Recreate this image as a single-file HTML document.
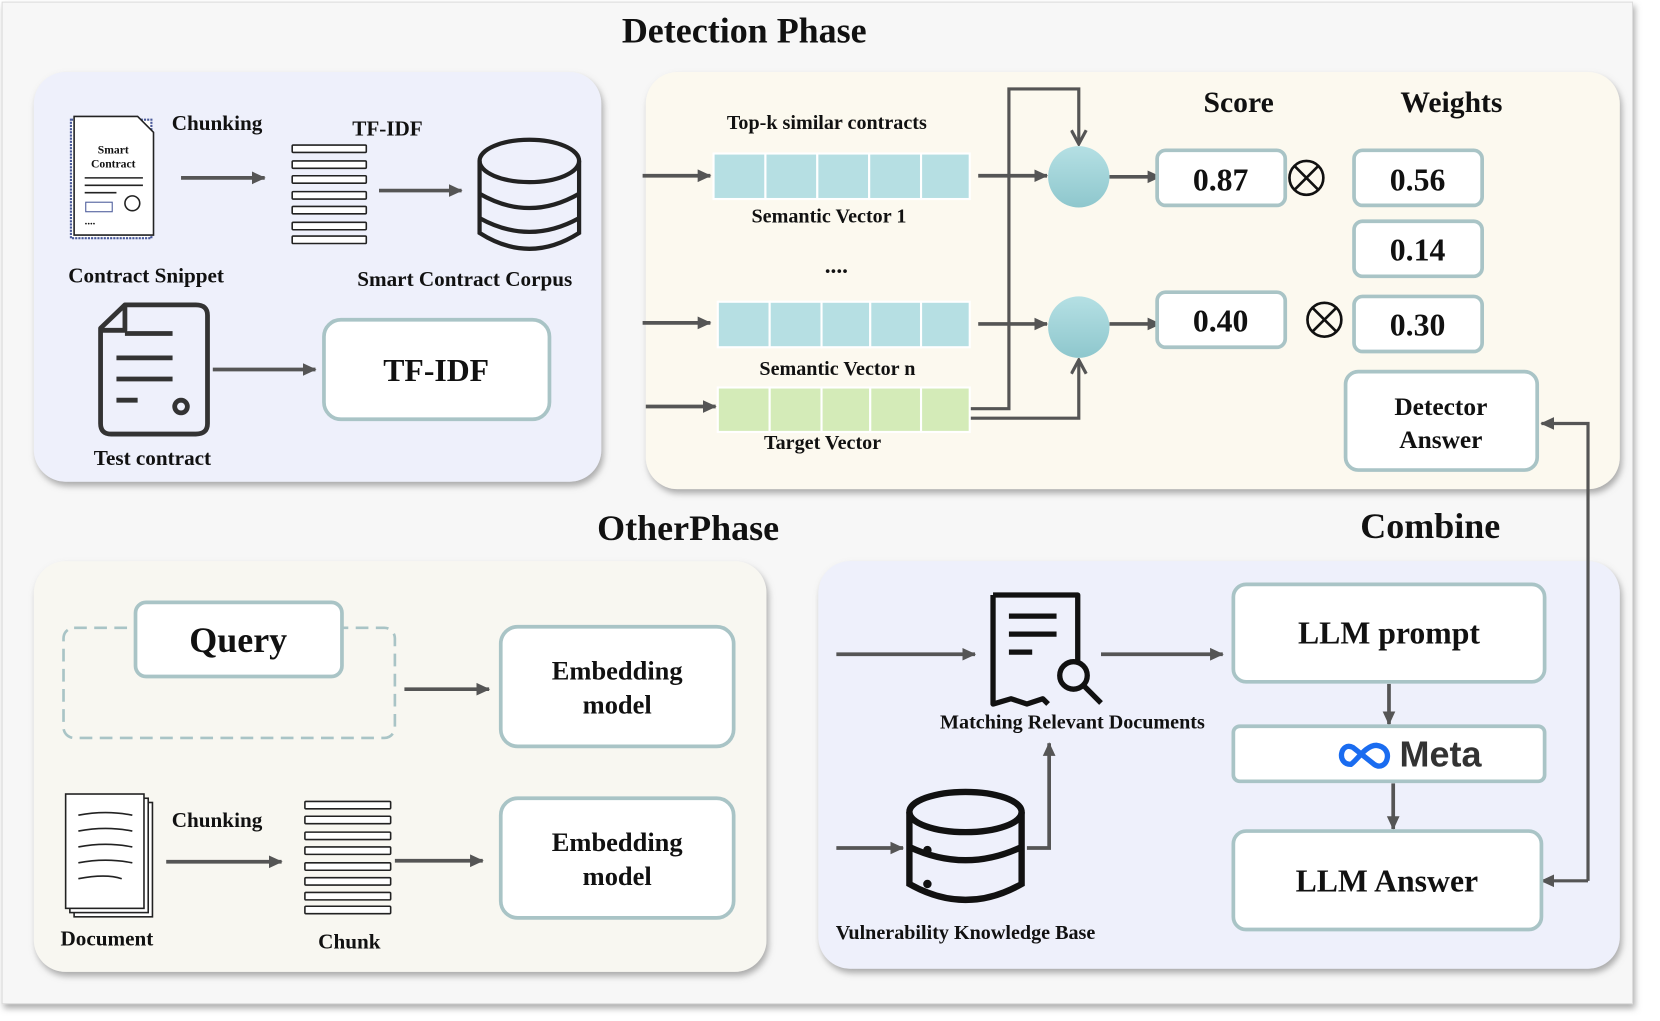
<!DOCTYPE html>
<html><head><meta charset="utf-8"><style>
html,body{margin:0;padding:0;background:#fff;}
svg{display:block;}
text{font-family:"Liberation Serif",serif;font-weight:bold;fill:#111;}
</style></head><body>
<svg width="1660" height="1021" viewBox="0 0 1568 964.4" preserveAspectRatio="none" xmlns="http://www.w3.org/2000/svg">
<defs>
<marker id="a" markerWidth="14" markerHeight="14" refX="12" refY="7" orient="auto" markerUnits="userSpaceOnUse"><path d="M0,1 L13,7 L0,13 Z" fill="#555"/></marker>
<marker id="v" markerWidth="16" markerHeight="16" refX="14" refY="8" orient="auto" markerUnits="userSpaceOnUse"><path d="M1,1 L14,8 L1,15" fill="none" stroke="#555" stroke-width="3"/></marker>
<filter id="sh" x="-5%" y="-5%" width="110%" height="115%"><feDropShadow dx="2" dy="4" stdDeviation="3" flood-color="#777" flood-opacity="0.6"/></filter>
<linearGradient id="cg" x1="0" y1="0" x2="0" y2="1"><stop offset="0" stop-color="#b5e0e4"/><stop offset="1" stop-color="#8ec7cd"/></linearGradient>
</defs>
<rect x="2" y="2" width="1540" height="946" fill="#f7f7f7" stroke="#ddd" filter="url(#sh)"/>
<rect x="32" y="68" width="536" height="387" rx="30" fill="#eef0fb" filter="url(#sh)"/>
<rect x="610" y="68" width="920" height="394" rx="30" fill="#fcf9ef" filter="url(#sh)"/>
<rect x="32" y="530" width="692" height="388" rx="30" fill="#f8f7f1" filter="url(#sh)"/>
<rect x="773" y="530" width="757" height="385" rx="30" fill="#eef0fb" filter="url(#sh)"/>

<text x="703" y="40" font-size="34" text-anchor="middle">Detection Phase</text>
<text x="650" y="510" font-size="34" text-anchor="middle">OtherPhase</text>
<text x="1351" y="508" font-size="34" text-anchor="middle">Combine</text>

<g stroke="#555" stroke-width="3.5" fill="none">
<line x1="171" y1="168" x2="250" y2="168" marker-end="url(#a)"/>
<line x1="358" y1="180" x2="436" y2="180" marker-end="url(#a)"/>
<line x1="201" y1="349" x2="298" y2="349" marker-end="url(#a)"/>
<line x1="607" y1="166" x2="671" y2="166" marker-end="url(#a)"/>
<line x1="607" y1="305" x2="671" y2="305" marker-end="url(#a)"/>
<line x1="610" y1="384" x2="676" y2="384" marker-end="url(#a)"/>
<line x1="924" y1="166" x2="989" y2="166" marker-end="url(#a)"/>
<line x1="924" y1="306" x2="989" y2="306" marker-end="url(#a)"/>
<line x1="1048" y1="167" x2="1096" y2="167" marker-end="url(#a)"/>
<line x1="1048" y1="306" x2="1096" y2="306" marker-end="url(#a)"/>
<polyline points="916,386 953,386 953,84 1019,84 1019,136" marker-end="url(#v)" stroke-width="3"/>
<polyline points="916,395 1019,395 1019,340" marker-end="url(#v)" stroke-width="3"/>
<polyline points="1500,832 1500,400 1456,400" marker-end="url(#a)" stroke-width="3"/>
<line x1="1500" y1="832" x2="1456" y2="832" marker-end="url(#a)" stroke-width="3"/>
<line x1="382" y1="651" x2="462" y2="651" marker-end="url(#a)"/>
<line x1="157" y1="814" x2="266" y2="814" marker-end="url(#a)"/>
<line x1="373" y1="813" x2="456" y2="813" marker-end="url(#a)"/>
<line x1="790" y1="618" x2="921" y2="618" marker-end="url(#a)"/>
<line x1="1040" y1="618" x2="1155" y2="618" marker-end="url(#a)"/>
<line x1="790" y1="801" x2="853" y2="801" marker-end="url(#a)"/>
<polyline points="970,801 991,801 991,702" marker-end="url(#a)"/>
<line x1="1312" y1="646" x2="1312" y2="684" marker-end="url(#a)"/>
<line x1="1316" y1="740" x2="1316" y2="783" marker-end="url(#a)"/>
</g>

<g>
<rect x="67" y="113" width="76" height="112" fill="#fff" stroke="#4a5a9a" stroke-width="2" stroke-dasharray="2 1"/>
<path d="M70,110 L130,110 L145,125 L145,222 L70,222 Z" fill="#fff" stroke="#222" stroke-width="1.5"/>
<text x="107" y="145" font-size="11" font-weight="normal" text-anchor="middle">Smart</text>
<text x="107" y="158" font-size="11" font-weight="normal" text-anchor="middle">Contract</text>
<line x1="80" y1="168" x2="135" y2="168" stroke="#222" stroke-width="1.5"/>
<line x1="80" y1="175" x2="135" y2="175" stroke="#222" stroke-width="1.5"/>
<line x1="80" y1="182" x2="110" y2="182" stroke="#222" stroke-width="1.5"/>
<rect x="81" y="191" width="25" height="9" fill="none" stroke="#4a5a9a"/>
<circle cx="125" cy="192" r="7" fill="none" stroke="#222" stroke-width="1.5"/>
<text x="80" y="212" font-size="10">....</text>
</g>
<g fill="#fff" stroke="#222" stroke-width="1.5">
<rect x="276" y="137" width="70" height="7" rx="1"/><rect x="276" y="152" width="70" height="7" rx="1"/><rect x="276" y="166" width="70" height="7" rx="1"/><rect x="276" y="181" width="70" height="7" rx="1"/><rect x="276" y="195" width="70" height="7" rx="1"/><rect x="276" y="210" width="70" height="7" rx="1"/><rect x="276" y="223" width="70" height="7" rx="1"/>
</g>
<g fill="none" stroke="#222" stroke-width="4">
<ellipse cx="500" cy="152" rx="47" ry="20"/>
<path d="M453,152 V220 Q500,250 547,220 V152"/>
<path d="M453,183 Q500,210 547,183"/>
<path d="M453,206 Q500,232 547,206"/>
</g>
<g fill="none" stroke="#333" stroke-width="4.5" stroke-linejoin="round">
<path d="M118,288 L185,288 Q196,288 196,298 L196,400 Q196,410 185,410 L105,410 Q95,410 95,400 L95,310 Z"/>
<path d="M118,288 L118,312 L95,312"/>
<line x1="118" y1="315" x2="163" y2="315"/><line x1="110" y1="338" x2="163" y2="338"/><line x1="110" y1="358" x2="163" y2="358"/><line x1="110" y1="378" x2="130" y2="378"/>
<circle cx="171" cy="384" r="6"/>
</g>
<text x="205" y="123" font-size="20" text-anchor="middle">Chunking</text>
<text x="366" y="128" font-size="20" text-anchor="middle">TF-IDF</text>
<text x="138" y="267" font-size="20" text-anchor="middle">Contract Snippet</text>
<text x="439" y="270" font-size="20" text-anchor="middle">Smart Contract Corpus</text>
<text x="144" y="439" font-size="20" text-anchor="middle">Test contract</text>
<rect x="306" y="302" width="213" height="94" rx="16" fill="#fff" stroke="#a9c4c6" stroke-width="3.5"/>
<text x="412" y="360" font-size="30" text-anchor="middle">TF-IDF</text>

<g stroke="#fff" stroke-width="2">
<g fill="#b6dfe3"><rect x="674" y="145" width="49" height="43"/><rect x="723" y="145" width="49" height="43"/><rect x="772" y="145" width="49" height="43"/><rect x="821" y="145" width="49" height="43"/><rect x="870" y="145" width="46" height="43"/>
<rect x="678" y="285" width="49" height="43"/><rect x="727" y="285" width="49" height="43"/><rect x="776" y="285" width="46" height="43"/><rect x="822" y="285" width="48" height="43"/><rect x="870" y="285" width="46" height="43"/></g>
<g fill="#d4ebb8"><rect x="678" y="366" width="49" height="42"/><rect x="727" y="366" width="49" height="42"/><rect x="776" y="366" width="46" height="42"/><rect x="822" y="366" width="48" height="42"/><rect x="870" y="366" width="46" height="42"/></g>
</g>
<text x="781" y="122" font-size="19" text-anchor="middle">Top-k similar contracts</text>
<text x="783" y="210" font-size="19" text-anchor="middle">Semantic Vector 1</text>
<text x="790" y="258" font-size="22" text-anchor="middle">....</text>
<text x="791" y="354" font-size="19" text-anchor="middle">Semantic Vector n</text>
<text x="777" y="424" font-size="19" text-anchor="middle">Target Vector</text>
<ellipse cx="1019" cy="167" rx="29" ry="29" fill="url(#cg)"/>
<ellipse cx="1019" cy="309" rx="29" ry="29" fill="url(#cg)"/>
<text x="1170" y="106" font-size="28" text-anchor="middle">Score</text>
<text x="1371" y="106" font-size="28" text-anchor="middle">Weights</text>
<g fill="#fff" stroke="#a9c4c6" stroke-width="3.5">
<rect x="1093" y="142" width="121" height="52" rx="8"/>
<rect x="1093" y="276" width="121" height="52" rx="8"/>
<rect x="1279" y="142" width="121" height="52" rx="8"/>
<rect x="1279" y="209" width="121" height="52" rx="8"/>
<rect x="1279" y="280" width="121" height="52" rx="8"/>
<rect x="1271" y="351" width="181" height="93" rx="12"/>
</g>
<text x="1153" y="180" font-size="30" text-anchor="middle">0.87</text>
<text x="1153" y="313" font-size="30" text-anchor="middle">0.40</text>
<text x="1339" y="180" font-size="30" text-anchor="middle">0.56</text>
<text x="1339" y="246" font-size="30" text-anchor="middle">0.14</text>
<text x="1339" y="317" font-size="30" text-anchor="middle">0.30</text>
<text x="1361" y="392" font-size="24" text-anchor="middle">Detector</text>
<text x="1361" y="423" font-size="24" text-anchor="middle">Answer</text>
<g fill="none" stroke="#111" stroke-width="2.5">
<circle cx="1234" cy="168" r="16"/><path d="M1223,157 L1245,179 M1245,157 L1223,179"/>
<circle cx="1251" cy="302" r="16"/><path d="M1240,291 L1262,313 M1262,291 L1240,313"/>
</g>

<rect x="60" y="593" width="313" height="104" rx="10" fill="none" stroke="#a9c4c6" stroke-width="2.5" stroke-dasharray="12 7"/>
<rect x="128" y="569" width="195" height="70" rx="10" fill="#fff" stroke="#a9c4c6" stroke-width="3.5"/>
<text x="225" y="616" font-size="34" text-anchor="middle">Query</text>
<rect x="473" y="592" width="220" height="113" rx="16" fill="#fff" stroke="#a9c4c6" stroke-width="3.5"/>
<text x="583" y="642" font-size="25" text-anchor="middle">Embedding</text>
<text x="583" y="674" font-size="25" text-anchor="middle">model</text>
<rect x="473" y="754" width="220" height="113" rx="16" fill="#fff" stroke="#a9c4c6" stroke-width="3.5"/>
<text x="583" y="804" font-size="25" text-anchor="middle">Embedding</text>
<text x="583" y="836" font-size="25" text-anchor="middle">model</text>
<g fill="#fff" stroke="#222" stroke-width="1.5">
<rect x="70" y="758" width="74" height="108"/><rect x="66" y="754" width="74" height="108"/><rect x="62" y="750" width="74" height="108"/>
<path d="M74,770 Q100,765 125,770 M74,785 Q100,780 125,785 M74,800 Q100,795 125,800 M74,815 Q100,810 125,815 M74,830 Q100,825 115,830" fill="none"/>
</g>
<text x="205" y="781" font-size="20" text-anchor="middle">Chunking</text>
<text x="101" y="893" font-size="20" text-anchor="middle">Document</text>
<text x="330" y="896" font-size="20" text-anchor="middle">Chunk</text>
<g fill="#fff" stroke="#222" stroke-width="1.5">
<rect x="288" y="757" width="81" height="7" rx="1"/><rect x="288" y="771" width="81" height="7" rx="1"/><rect x="288" y="786" width="81" height="7" rx="1"/><rect x="288" y="800" width="81" height="7" rx="1"/><rect x="288" y="815" width="81" height="7" rx="1"/><rect x="288" y="829" width="81" height="7" rx="1"/><rect x="288" y="843" width="81" height="7" rx="1"/><rect x="288" y="856" width="81" height="7" rx="1"/>
</g>

<g fill="none" stroke="#111" stroke-width="5" stroke-linejoin="round">
<path d="M938,562 L1018,562 L1018,625 M990,665 L985,660 L970,665 L955,660 L938,665 L938,562"/>
<line x1="953" y1="582" x2="998" y2="582"/><line x1="953" y1="599" x2="998" y2="599"/><line x1="953" y1="616" x2="975" y2="616"/>
<circle cx="1014" cy="638" r="13"/><line x1="1024" y1="648" x2="1040" y2="664"/>
</g>
<text x="1013" y="688" font-size="19" text-anchor="middle">Matching Relevant Documents</text>
<g fill="none" stroke="#111" stroke-width="6">
<ellipse cx="912" cy="767" rx="53" ry="19"/>
<path d="M859,767 V835 Q912,865 965,835 V767"/>
<path d="M859,800 Q912,825 965,800"/>
</g>
<circle cx="876" cy="803" r="4" fill="#111"/><circle cx="876" cy="835" r="4" fill="#111"/>
<text x="912" y="887" font-size="19" text-anchor="middle">Vulnerability Knowledge Base</text>
<g fill="#fff" stroke="#a9c4c6" stroke-width="3.5">
<rect x="1165" y="552" width="294" height="92" rx="12"/>
<rect x="1165" y="686" width="294" height="52" rx="6"/>
<rect x="1165" y="785" width="291" height="93" rx="12"/>
</g>
<text x="1312" y="608" font-size="30" text-anchor="middle">LLM prompt</text>
<text x="1310" y="842" font-size="30" text-anchor="middle">LLM Answer</text>
<path d="M1276,722 C1262,722 1266,700 1278,706 L1298,722 C1310,730 1318,706 1300,704 C1290,704 1282,718 1276,722 Z" fill="none" stroke="#1a6cf0" stroke-width="5"/>
<text x="1322" y="724" font-size="34" font-weight="normal" style="font-family:'Liberation Sans',sans-serif;fill:#333">Meta</text>
</svg>
</body></html>
